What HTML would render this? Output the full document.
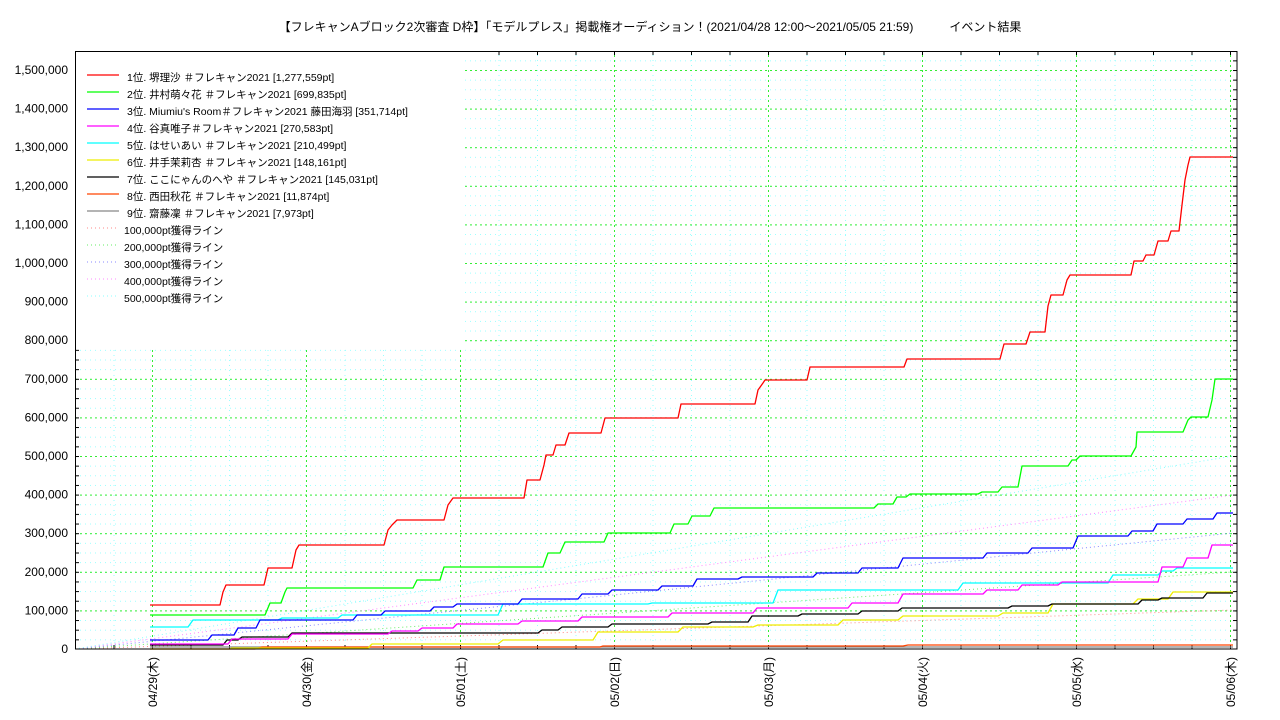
<!DOCTYPE html>
<html><head><meta charset="utf-8"><style>
html,body{margin:0;padding:0;background:#fff;}
svg{display:block;font-family:"Liberation Sans","Noto Sans CJK JP",sans-serif;}
</style></head><body>
<svg width="1280" height="720" viewBox="0 0 1280 720" xmlns="http://www.w3.org/2000/svg">
<defs>
<pattern id="vmin" patternUnits="userSpaceOnUse" x="75" y="0" width="38.5" height="720"><line x1="0.5" y1="0" x2="0.5" y2="720" stroke="#9ff" stroke-width="1" stroke-dasharray="1,4"/></pattern>
<pattern id="hmin" patternUnits="userSpaceOnUse" x="0" y="649" width="1280" height="9.65"><line x1="0" y1="0.5" x2="1280" y2="0.5" stroke="#9ff" stroke-width="1" stroke-dasharray="1,4"/></pattern>
<pattern id="vmaj" patternUnits="userSpaceOnUse" x="152" y="0" width="154" height="720"><line x1="0.5" y1="0" x2="0.5" y2="720" stroke="#3e3" stroke-width="1" stroke-dasharray="2,3"/></pattern>
<pattern id="hmaj" patternUnits="userSpaceOnUse" x="0" y="649" width="1280" height="38.6"><line x1="0" y1="0.5" x2="1280" y2="0.5" stroke="#3e3" stroke-width="1" stroke-dasharray="2,3"/></pattern>
<pattern id="ytk" patternUnits="userSpaceOnUse" x="0" y="649" width="1280" height="9.65"><line x1="75" y1="0.5" x2="79" y2="0.5" stroke="#000"/><line x1="1233" y1="0.5" x2="1237" y2="0.5" stroke="#000"/></pattern>
<pattern id="xtk" patternUnits="userSpaceOnUse" x="75" y="0" width="38.5" height="720"><line x1="0.5" y1="645" x2="0.5" y2="649" stroke="#000"/><line x1="0.5" y1="51" x2="0.5" y2="55" stroke="#000"/></pattern>
</defs>
<text x="650" y="31" font-size="12" text-anchor="middle" fill="#000">【フレキャンAブロック2次審査 D枠】「モデルプレス」掲載権オーディション！(2021/04/28 12:00〜2021/05/05 21:59)　　　イベント結果</text>
<g>
<rect x="75" y="51" width="1162" height="598" fill="url(#hmin)"/>
<rect x="75" y="51" width="1162" height="598" fill="url(#vmin)"/>
<rect x="75" y="51" width="1162" height="598" fill="url(#hmaj)"/>
<rect x="75" y="51" width="1162" height="598" fill="url(#vmaj)"/>
<rect x="75" y="51" width="1162" height="598" fill="url(#ytk)"/>
<rect x="75" y="51" width="1162" height="598" fill="url(#xtk)"/>
</g>
<g fill="none" stroke-width="1" stroke-dasharray="1,3">
<line x1="75" y1="649" x2="1233" y2="610" stroke="#f88"/>
<line x1="75" y1="649" x2="1233" y2="572" stroke="#6e6"/>
<line x1="75" y1="649" x2="1233" y2="533" stroke="#88f"/>
<line x1="75" y1="649" x2="1233" y2="495" stroke="#f8f"/>
<line x1="75" y1="649" x2="1233" y2="456" stroke="#8ff"/>
</g>
<g fill="none" stroke-width="1.3" stroke-linejoin="round">
<polyline stroke="#888" points="150,647 1233,647"/>
<polyline stroke="#f40" points="150,649 255,649 262,647 600,647 603,646 903,646 908,645 1233,645"/>
<polyline stroke="#ee0" points="150,649 230,649 232,648 368,648 372,644 498,644 503,640 593,640 598,632 678,632 683,627 753,627 758,625 838,625 843,620 898,620 903,616 998,616 1003,613 1048,613 1053,604 1133,604 1138,599 1168,599 1173,592 1233,592"/>
<polyline stroke="#000" points="150,645 223,645 227,640 238,640 242,637 288,637 292,633 538,633 542,630 558,630 562,627 608,627 612,624 708,624 712,622 748,622 752,616 798,616 802,614 858,614 862,611 898,611 902,608 1008,608 1012,606 1048,606 1052,604 1138,604 1142,600 1158,600 1162,598 1203,598 1207,593 1233,593"/>
<polyline stroke="#0ff" points="150,627 188,627 193,620 278,620 282,618 338,618 342,615 498,615 503,604 648,604 652,603 773,603 778,590 958,590 963,583 1108,583 1113,575 1158,575 1162,571 1173,571 1177,568 1233,568"/>
<polyline stroke="#f0f" points="150,644 228,644 232,639 288,639 292,634 388,634 392,631 418,631 422,628 453,628 457,624 518,624 522,621 578,621 582,617 668,617 672,613 753,613 757,608 848,608 852,603 898,603 903,594 983,594 987,590 1018,590 1022,585 1058,585 1062,582 1158,582 1162,567 1183,567 1187,558 1208,558 1212,545 1233,545"/>
<polyline stroke="#00f" points="150,640 208,640 212,635 234,635 238,628 256,628 260,620 353,620 357,615 381,615 385,611 430,611 434,607 453,607 457,604 518,604 522,599 578,599 582,594 608,594 612,590 658,590 662,586 693,586 697,579 738,579 742,577 813,577 817,573 858,573 862,568 898,568 903,558 983,558 987,553 1028,553 1032,548 1073,548 1078,536 1128,536 1132,531 1153,531 1157,524 1183,524 1187,519 1213,519 1217,513 1233,513"/>
<polyline stroke="#0f0" points="150,615 265,615 270,603 281,603 285,592 287,588 413,588 417,580 440,580 444,567 543,567 548,553 560,553 565,542 604,542 608,533 670,533 674,524 688,524 692,516 710,516 714,508 874,508 878,504 893,504 897,497 906,497 910,494 978,494 982,492 998,492 1002,487 1018,487 1022,466 1068,466 1072,460 1076,460 1080,456 1131,456 1136,447 1137,432 1183,432 1188,420 1191,417 1208,417 1212,400 1215,379 1233,379"/>
<polyline stroke="#f00" points="150,605 220,605 223,592 226,585 264,585 268,568 292,568 296,550 299,545 384,545 388,530 392,525 397,520 444,520 448,505 453,498 524,498 527,480 540,480 544,465 546,455 553,455 556,445 565,445 569,433 601,433 605,418 678,418 681,404 755,404 758,390 763,383 765,380 807,380 810,367 904,367 907,359 1000,359 1004,344 1026,344 1030,332 1045,332 1048,306 1051,295 1063,295 1067,280 1070,275 1131,275 1134,261 1143,261 1146,255 1154,255 1158,241 1168,241 1171,231 1179,231 1182,205 1185,180 1188,165 1190,157 1233,157"/>
</g>
<rect x="76" y="52" width="387" height="297" fill="#fff"/>
<rect x="75.5" y="51.5" width="1161.5" height="597.5" fill="none" stroke="#000" stroke-width="1"/>
<g font-size="10.5" fill="#000">
<line x1="87" y1="75" x2="119" y2="75" stroke="#f00" stroke-width="1.3"/><text x="127" y="81">1位. 堺理沙 ＃フレキャン2021 [1,277,559pt]</text>
<line x1="87" y1="92" x2="119" y2="92" stroke="#0f0" stroke-width="1.3"/><text x="127" y="98">2位. 井村萌々花 ＃フレキャン2021 [699,835pt]</text>
<line x1="87" y1="109" x2="119" y2="109" stroke="#00f" stroke-width="1.3"/><text x="127" y="115">3位. Miumiu's Room＃フレキャン2021 藤田海羽 [351,714pt]</text>
<line x1="87" y1="126" x2="119" y2="126" stroke="#f0f" stroke-width="1.3"/><text x="127" y="132">4位. 谷真唯子＃フレキャン2021 [270,583pt]</text>
<line x1="87" y1="143" x2="119" y2="143" stroke="#0ff" stroke-width="1.3"/><text x="127" y="149">5位. はせいあい ＃フレキャン2021 [210,499pt]</text>
<line x1="87" y1="160" x2="119" y2="160" stroke="#ee0" stroke-width="1.3"/><text x="127" y="166">6位. 井手茉莉杏 ＃フレキャン2021 [148,161pt]</text>
<line x1="87" y1="177" x2="119" y2="177" stroke="#000" stroke-width="1.3"/><text x="127" y="183">7位. ここにゃんのへや ＃フレキャン2021 [145,031pt]</text>
<line x1="87" y1="194" x2="119" y2="194" stroke="#f40" stroke-width="1.3"/><text x="127" y="200">8位. 西田秋花 ＃フレキャン2021 [11,874pt]</text>
<line x1="87" y1="211" x2="119" y2="211" stroke="#888" stroke-width="1.3"/><text x="127" y="217">9位. 齋藤凜 ＃フレキャン2021 [7,973pt]</text>
<g stroke-dasharray="1,3">
<line x1="87" y1="228" x2="119" y2="228" stroke="#f88"/>
<line x1="87" y1="245" x2="119" y2="245" stroke="#6e6"/>
<line x1="87" y1="262" x2="119" y2="262" stroke="#88f"/>
<line x1="87" y1="279" x2="119" y2="279" stroke="#f8f"/>
<line x1="87" y1="296" x2="119" y2="296" stroke="#8ff"/>
</g>
<text x="124" y="234">100,000pt獲得ライン</text>
<text x="124" y="251">200,000pt獲得ライン</text>
<text x="124" y="268">300,000pt獲得ライン</text>
<text x="124" y="285">400,000pt獲得ライン</text>
<text x="124" y="302">500,000pt獲得ライン</text>
</g>
<g font-size="12" fill="#000" text-anchor="end">
<text x="68" y="653">0</text>
<text x="68" y="614.4">100,000</text>
<text x="68" y="575.8">200,000</text>
<text x="68" y="537.2">300,000</text>
<text x="68" y="498.6">400,000</text>
<text x="68" y="460">500,000</text>
<text x="68" y="421.4">600,000</text>
<text x="68" y="382.8">700,000</text>
<text x="68" y="344.2">800,000</text>
<text x="68" y="305.6">900,000</text>
<text x="68" y="267">1,000,000</text>
<text x="68" y="228.4">1,100,000</text>
<text x="68" y="189.8">1,200,000</text>
<text x="68" y="151.2">1,300,000</text>
<text x="68" y="112.6">1,400,000</text>
<text x="68" y="74">1,500,000</text>
</g>
<g font-size="12" fill="#000" text-anchor="end">
<text transform="translate(157,657) rotate(-90)">04/29(木)</text>
<text transform="translate(311,657) rotate(-90)">04/30(金)</text>
<text transform="translate(465,657) rotate(-90)">05/01(土)</text>
<text transform="translate(619,657) rotate(-90)">05/02(日)</text>
<text transform="translate(773,657) rotate(-90)">05/03(月)</text>
<text transform="translate(927,657) rotate(-90)">05/04(火)</text>
<text transform="translate(1081,657) rotate(-90)">05/05(水)</text>
<text transform="translate(1235,657) rotate(-90)">05/06(木)</text>
</g>
</svg>
</body></html>
